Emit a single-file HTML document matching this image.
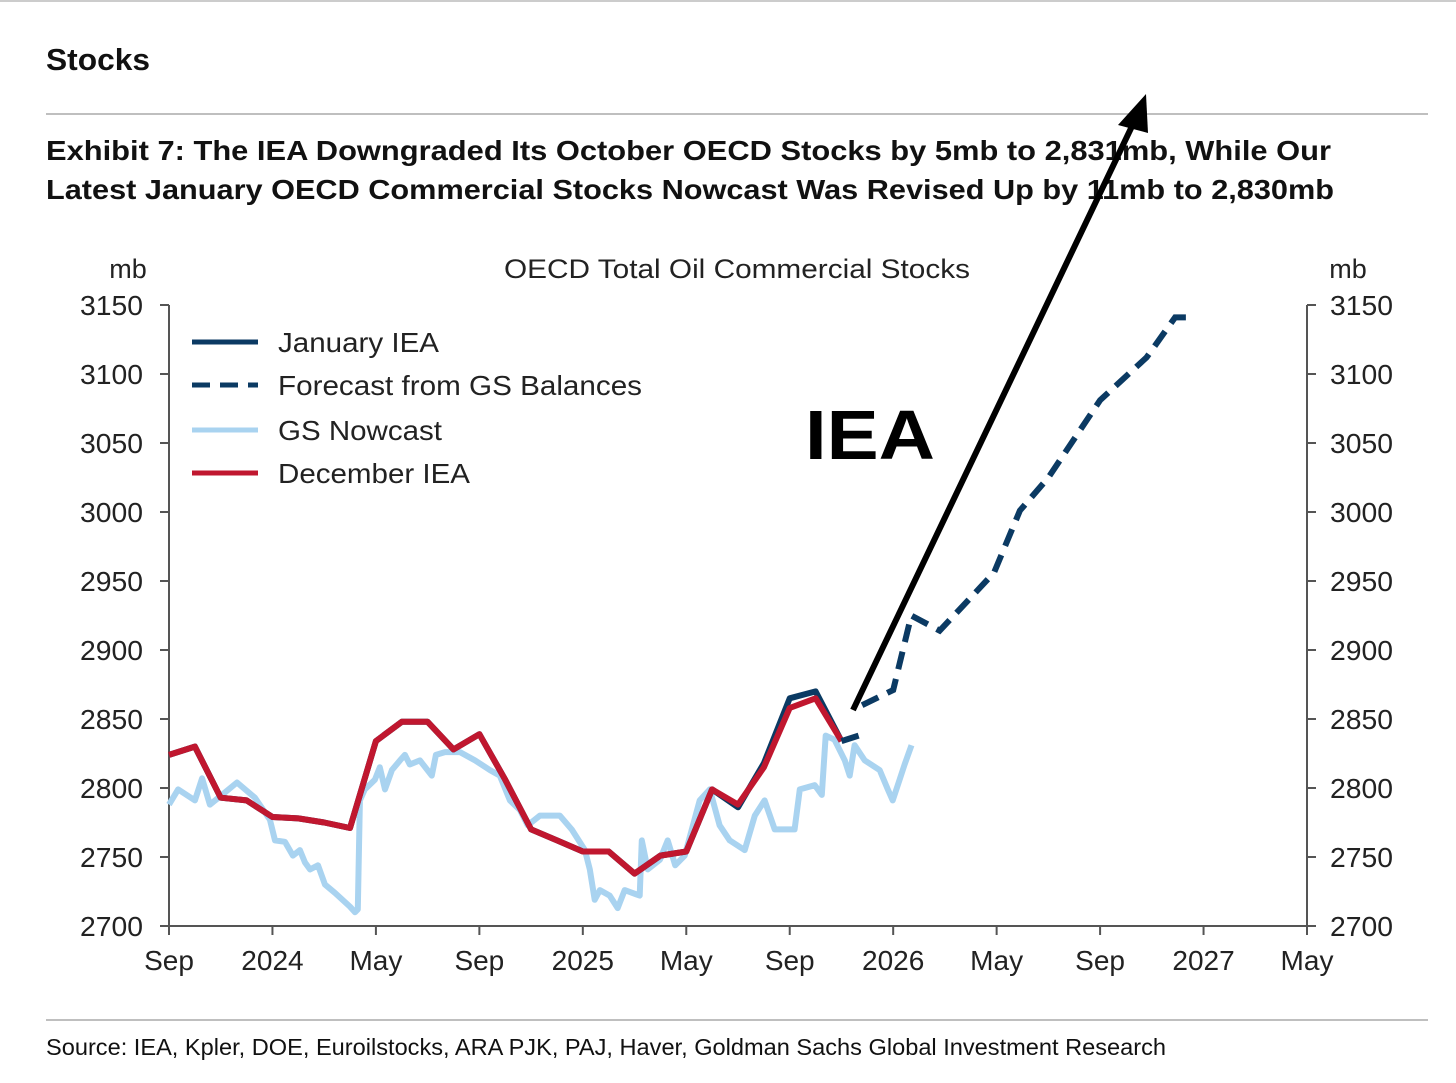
<!DOCTYPE html>
<html><head><meta charset="utf-8"><style>
body{margin:0;background:#fff;width:1456px;height:1083px;overflow:hidden;font-family:"Liberation Sans",sans-serif}
</style></head><body>
<svg width="1456" height="1083" style="position:absolute;left:0;top:0">
<line x1="0" y1="1" x2="1456" y2="1" stroke="#999"/>
<text x="46" y="70" font-size="31" font-weight="bold" fill="#111" textLength="104" lengthAdjust="spacingAndGlyphs">Stocks</text>
<line x1="46" y1="114" x2="1428" y2="114" stroke="#aaa" stroke-width="1.5"/>
<text x="46" y="160" font-size="28" font-weight="bold" fill="#111" textLength="1285" lengthAdjust="spacingAndGlyphs">Exhibit 7: The IEA Downgraded Its October OECD Stocks by 5mb to 2,831mb, While Our</text>
<text x="46" y="199" font-size="28" font-weight="bold" fill="#111" textLength="1288" lengthAdjust="spacingAndGlyphs">Latest January OECD Commercial Stocks Nowcast Was Revised Up by 11mb to 2,830mb</text>
<text x="737" y="278" font-size="27" text-anchor="middle" fill="#222" textLength="466" lengthAdjust="spacingAndGlyphs">OECD Total Oil Commercial Stocks</text>
<text x="128" y="278" font-size="27" text-anchor="middle" fill="#222">mb</text>
<text x="1348" y="278" font-size="27" text-anchor="middle" fill="#222">mb</text>
<g id="axes"></g>
<g id="series"></g>
<g>
<line x1="192" y1="342" x2="258" y2="342" stroke="#0b3a63" stroke-width="5"/>
<text x="278" y="352" font-size="28" fill="#222" textLength="161" lengthAdjust="spacingAndGlyphs">January IEA</text>
<line x1="192" y1="385" x2="258" y2="385" stroke="#0b3a63" stroke-width="5" stroke-dasharray="18,10"/>
<text x="278" y="395" font-size="28" fill="#222" textLength="364" lengthAdjust="spacingAndGlyphs">Forecast from GS Balances</text>
<line x1="192" y1="430" x2="258" y2="430" stroke="#a9d3f0" stroke-width="5"/>
<text x="278" y="440" font-size="28" fill="#222" textLength="164" lengthAdjust="spacingAndGlyphs">GS Nowcast</text>
<line x1="192" y1="473" x2="258" y2="473" stroke="#c0172f" stroke-width="5"/>
<text x="278" y="483" font-size="28" fill="#222" textLength="192" lengthAdjust="spacingAndGlyphs">December IEA</text>
</g>
<text x="805" y="459" font-size="70" font-weight="bold" fill="#000" textLength="130" lengthAdjust="spacingAndGlyphs">IEA</text>
<line x1="853" y1="710" x2="1134" y2="122" stroke="#000" stroke-width="6"/>
<polygon points="1146,94 1118,125 1148,133" fill="#000"/>
<line x1="46" y1="1020" x2="1428" y2="1020" stroke="#aaa" stroke-width="1.5"/>
<text x="46" y="1055" font-size="23" fill="#111" textLength="1120" lengthAdjust="spacingAndGlyphs">Source: IEA, Kpler, DOE, Euroilstocks, ARA PJK, PAJ, Haver, Goldman Sachs Global Investment Research</text>
</svg>
<script>
const yTicks=[2700,2750,2800,2850,2900,2950,3000,3050,3100,3150];
const xTickLabels=["Sep","2024","May","Sep","2025","May","Sep","2026","May","Sep","2027","May"];
const decMonths=[0,1,2,3,4,5,6,7,8,9,10,11,12,13,14,15,16,17,18,19,20,21,22,23,24,25,26];
const decValues=[2824,2830,2793,2791,2779,2778,2775,2771,2834,2848,2848,2828,2839,2806,2770,2762,2754,2754,2738,2751,2754,2799,2788,2815,2858,2865,2834];
const janMonths=[0,1,2,3,4,5,6,7,8,9,10,11,12,13,14,15,16,17,18,19,20,21,22,23,24,25,26];
const janValues=[2824,2830,2793,2791,2779,2778,2775,2771,2834,2848,2848,2828,2839,2806,2770,2762,2754,2754,2738,2751,2754,2799,2786,2818,2865,2870,2834];
const fc1Months=[26,27];
const fc1Values=[2834,2840];
const fc2Months=[26.8,28,28.7,29.8,31.9,32.9,34,36,37.8,38.9,39.7];
const fc2Values=[2860,2871,2925,2914,2956,3001,3025,3081,3112,3141,3141];
const nowMonths=[0,0.35,1.0,1.28,1.58,2.05,2.63,3.32,3.9,4.1,4.48,4.79,5.06,5.26,5.45,5.76,6.03,6.42,7.0,7.19,7.3,7.38,7.57,7.96,8.15,8.35,8.62,8.93,9.12,9.31,9.7,10.16,10.32,10.67,11.25,11.83,12.41,12.79,13.18,13.57,13.87,14.34,15.11,15.57,16.08,16.27,16.46,16.66,17.04,17.35,17.62,18.2,18.28,18.51,18.98,19.28,19.57,19.94,20.52,20.91,21.29,21.68,22.26,22.65,23.03,23.42,24.19,24.39,24.97,25.24,25.39,25.73,26.13,26.32,26.51,26.9,27.48,27.79,27.98,28.25,28.44,28.71];
const nowValues=[2788,2799,2791,2807,2788,2795,2804,2793,2777,2762,2761,2751,2755,2746,2741,2744,2730,2724,2714,2710,2712,2791,2799,2806,2815,2799,2813,2820,2824,2817,2820,2809,2824,2826,2826,2820,2813,2809,2791,2784,2773,2780,2780,2770,2755,2741,2719,2726,2722,2713,2726,2722,2762,2741,2748,2762,2744,2751,2791,2799,2773,2762,2755,2780,2791,2770,2770,2799,2802,2795,2838,2835,2820,2809,2831,2820,2813,2799,2791,2806,2817,2831];

const X0=169,X1=1307,Y0=926,Y1=305;
const xs=m=>X0+m*(X1-X0)/44;
const ys=v=>Y0-(v-2700)*(Y0-Y1)/450;
const NS="http://www.w3.org/2000/svg";
function mk(tag,attrs,parent){const e=document.createElementNS(NS,tag);for(const k in attrs)e.setAttribute(k,attrs[k]);parent.appendChild(e);return e;}
const ax=document.getElementById('axes');
let e;
e=mk('line',{x1:X0,y1:Y1,x2:X0,y2:Y0,stroke:'#555','stroke-width':2},ax);


e=mk('line',{x1:X1,y1:Y1,x2:X1,y2:Y0,stroke:'#555','stroke-width':2},ax);


e=mk('line',{x1:X0,y1:Y0,x2:X1,y2:Y0,stroke:'#555','stroke-width':2},ax);


yTicks.forEach(v=>{
 const y=ys(v);
 e=mk('line',{x1:X0-9,y1:y,x2:X0,y2:y,stroke:'#555','stroke-width':2},ax);
 
 
 e=mk('line',{x1:X1,y1:y,x2:X1+9,y2:y,stroke:'#555','stroke-width':2},ax);
 
 
 e=mk('text',{x:143,y:y+10,'font-size':28,'text-anchor':'end',fill:'#222',textLength:63,lengthAdjust:'spacingAndGlyphs'},ax);e.textContent=v;
 
 
 e=mk('text',{x:1330,y:y+10,'font-size':28,fill:'#222',textLength:63,lengthAdjust:'spacingAndGlyphs'},ax);e.textContent=v;
 
 
});
xTickLabels.forEach((l,i)=>{
 const x=xs(i*4);
 e=mk('line',{x1:x,y1:Y0,x2:x,y2:Y0+9,stroke:'#555','stroke-width':2},ax);
 
 
 e=mk('text',{x:x,y:970,'font-size':28,'text-anchor':'middle',fill:'#222'},ax);e.textContent=l;
 
 
});
const sg=document.getElementById('series');
function path(ms,vs){return ms.map((m,i)=>(i?'L':'M')+xs(m).toFixed(1)+','+ys(vs[i]).toFixed(1)).join(' ');}
e=mk('path',{d:path(nowMonths,nowValues),fill:'none',stroke:'#a9d3f0','stroke-width':6,'stroke-linejoin':'round'},sg);


e=mk('path',{d:path(janMonths,janValues),fill:'none',stroke:'#0b3a63','stroke-width':6,'stroke-linejoin':'round'},sg);


e=mk('path',{d:path(decMonths,decValues),fill:'none',stroke:'#c0172f','stroke-width':6,'stroke-linejoin':'round'},sg);


e=mk('path',{d:path(fc1Months,fc1Values),fill:'none',stroke:'#0b3a63','stroke-width':6,'stroke-dasharray':'18,10'},sg);


e=mk('path',{d:path(fc2Months,fc2Values),fill:'none',stroke:'#0b3a63','stroke-width':6,'stroke-dasharray':'18,10'},sg);


</script>
</body></html>
